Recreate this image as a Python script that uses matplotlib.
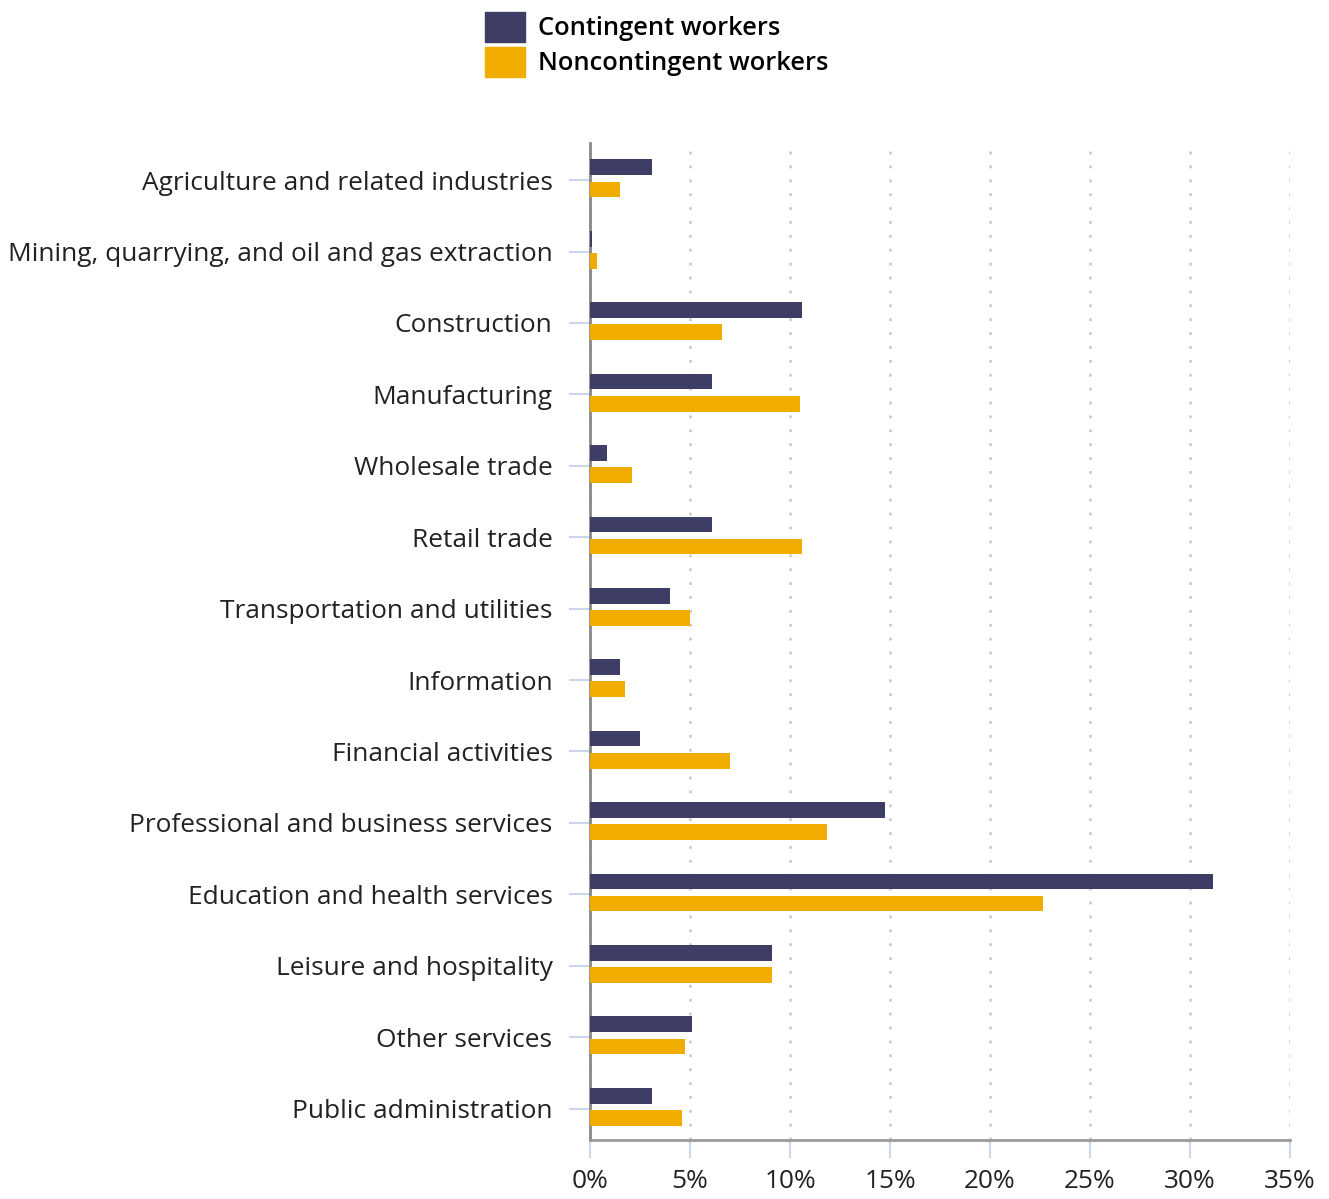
import matplotlib.pyplot as plt
import numpy as np
from matplotlib.patches import Patch

industries = [
    "Agriculture and related industries",
    "Mining, quarrying, and oil and gas extraction",
    "Construction",
    "Manufacturing",
    "Wholesale trade",
    "Retail trade",
    "Transportation and utilities",
    "Information",
    "Financial activities",
    "Professional and business services",
    "Education and health services",
    "Leisure and hospitality",
    "Other services",
    "Public administration",
]
contingent = [3.1, 0.1, 10.6, 6.1, 0.85, 6.1, 4.0, 1.5, 2.5, 14.75, 31.15, 9.1, 5.1, 3.1]
noncontingent = [1.5, 0.35, 6.6, 10.5, 2.1, 10.6, 5.0, 1.75, 7.0, 11.85, 22.65, 9.1, 4.75, 4.6]
xticks = [0, 5, 10, 15, 20, 25, 30, 35]

c_cont = "#3d3d66"
c_non = "#f0ad00"

plt.rcParams["font.family"] = ["Open Sans", "DejaVu Sans"]

fig = plt.figure(figsize=(13.29, 11.99), dpi=100)
ax = fig.add_axes([590/1329, 1 - 1140/1199, 700/1329, (1140-143)/1199])

y = np.arange(len(industries))
h = 0.22
ax.barh(y - 0.18, contingent, height=h, color=c_cont, zorder=3)
ax.barh(y + 0.13, noncontingent, height=h, color=c_non, zorder=3)

ax.set_ylim(13.44, -0.52)
ax.set_xlim(0, 35)
ax.set_yticks(y)
ax.set_yticklabels(industries, fontsize=18.9, color="#222222")
ax.set_xticks(xticks)
ax.set_xticklabels([f"{t}%" for t in xticks], fontsize=18.9, color="#222222")

ax.tick_params(axis="y", length=15, width=1.5, color="#ccd6eb", pad=12)
ax.tick_params(axis="x", length=13, width=1.5, color="#ccd6eb", pad=8)

for s in ["top", "right"]:
    ax.spines[s].set_visible(False)
ax.spines["left"].set_color("#888888")
ax.spines["left"].set_linewidth(2)
ax.spines["bottom"].set_color("#999999")
ax.spines["bottom"].set_linewidth(2)

ax.grid(axis="x", color="#cccccc", linestyle=(0, (1, 4)), linewidth=2, zorder=0)
ax.grid(axis="y", visible=False)

handles = [Patch(color=c_cont, label="Contingent workers"),
           Patch(color=c_non, label="Noncontingent workers")]
fig.legend(handles=handles, loc="upper left", bbox_to_anchor=(485/1329, 1 - 12/1199),
           frameon=False, borderpad=0, borderaxespad=0,
           handlelength=1.57, handleheight=1.4,
           handletextpad=0.5, labelspacing=0.22,
           prop={"family": ["Open Sans", "DejaVu Sans"], "weight": "semibold", "size": 18.4})

fig.savefig("out.png", dpi=100)
